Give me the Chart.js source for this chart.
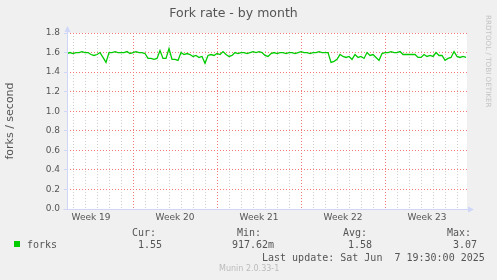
<!DOCTYPE html>
<html>
<head>
<meta charset="utf-8">
<script src="https://cdn.jsdelivr.net/npm/chart.js@4"></script>
<style>
  body { margin: 0; background: #f0f0f0; }
  #wrap { position: relative; width: 497px; height: 280px; background: #f0f0f0; overflow: hidden; }
  #chart { position: absolute; left: 0; top: 0; }
  .mono { position: absolute; font-family: "DejaVu Sans Mono", monospace; font-size: 10px; color: #555; white-space: pre; line-height: 12px; }
  #swatch { position: absolute; left: 14px; top: 241px; width: 6px; height: 6px; background: #00cc00; }
  #munin { position: absolute; left: 219px; top: 264px; font-family: "DejaVu Sans", sans-serif; font-size: 8px; color: #bbb; white-space: pre; }
  #rrd { position: absolute; left: 484px; top: 15px; font-family: "DejaVu Sans", sans-serif; font-size: 7.2px; color: #c4c4c4;
         writing-mode: vertical-rl; white-space: pre; }
</style>
</head>
<body>
<div id="wrap">
  <canvas id="chart" width="497" height="280"></canvas>
  <div id="swatch"></div>
  <div class="mono" style="left:27px;top:239px;">forks</div>
  <div id="legend-stats"></div>
  <div class="mono" id="last-update" style="left:262px;top:252px;"></div>
  <div id="munin">Munin 2.0.33-1</div>
  <div id="rrd">RRDTOOL / TOBI OETIKER</div>
</div>
<script>
// Fork rate samples, one every 6 hours (days counted from the first Monday gridline)
const sampleStartDay = -0.5;
const sampleStepDay = 0.25;
const forks = [
  1.59, 1.60, 1.59, 1.60, 1.60, 1.61, 1.60, 1.60, 1.58, 1.57,
  1.58, 1.60, 1.55, 1.50, 1.60, 1.60, 1.61, 1.60, 1.60, 1.60,
  1.61, 1.59, 1.60, 1.61, 1.60, 1.60, 1.59, 1.54, 1.54, 1.53,
  1.54, 1.62, 1.54, 1.54, 1.64, 1.53, 1.53, 1.52, 1.60, 1.58,
  1.59, 1.58, 1.56, 1.57, 1.55, 1.56, 1.49, 1.57, 1.58, 1.57,
  1.59, 1.58, 1.61, 1.58, 1.56, 1.57, 1.60, 1.59, 1.60, 1.60,
  1.59, 1.60, 1.61, 1.60, 1.61, 1.60, 1.57, 1.56, 1.59, 1.60,
  1.59, 1.60, 1.60, 1.59, 1.60, 1.60, 1.59, 1.60, 1.61, 1.60,
  1.60, 1.59, 1.60, 1.60, 1.61, 1.60, 1.60, 1.60, 1.50, 1.51,
  1.53, 1.58, 1.56, 1.55, 1.56, 1.53, 1.58, 1.55, 1.56, 1.54,
  1.60, 1.57, 1.58, 1.55, 1.52, 1.59, 1.60, 1.60, 1.61, 1.60,
  1.60, 1.61, 1.58, 1.58, 1.58, 1.58, 1.58, 1.55, 1.55, 1.58,
  1.56, 1.57, 1.56, 1.60, 1.57, 1.57, 1.52, 1.54, 1.55, 1.61,
  1.56, 1.55, 1.56, 1.55
];

// x axis: week names and the day each week starts on
const weekLabels = ['Week 19', 'Week 20', 'Week 21', 'Week 22', 'Week 23'];
const weekStartDays = [-2, 5, 12, 19, 26];
const xMinDay = -0.5;
const xMaxDay = 32.83;

// y axis
const yMax = 1.8;
const yTickCount = 18; // steps of 0.1

// legend
const statNames = ['Cur:', 'Min:', 'Avg:', 'Max:'];
const statValues = ['1.55', '917.62m', '1.58', '3.07'];
const lastUpdate = 'Last update: Sat Jun  7 19:30:00 2025';

const MAJOR = 'rgb(245, 120, 120)';
const MINOR = 'rgba(175, 175, 175, 0.6)';
const AXIS = '#cfd6f8';

const weekCenters = weekStartDays.map(d => d + 3.5);

// legend text
const statX = [132, 237, 343, 447];
const valX = [138, 232, 348, 453];
let html = '';
statNames.forEach((n, i) => {
    html += `<div class="mono" style="left:${statX[i]}px;top:227px;">${n}</div>`;
    html += `<div class="mono" style="left:${valX[i]}px;top:239px;">${statValues[i]}</div>`;
});
document.getElementById('legend-stats').innerHTML = html;
document.getElementById('last-update').textContent = lastUpdate;

function isWeekStart(v) {
    return weekStartDays.some(w => Math.abs(w - v) < 1e-6);
}

// white canvas behind the plot
const plotBackground = {
    id: 'plotBackground',
    beforeDraw(chart) {
        const a = chart.chartArea;
        chart.ctx.save();
        chart.ctx.fillStyle = '#ffffff';
        chart.ctx.fillRect(a.left, a.top, a.right - a.left, a.bottom - a.top);
        chart.ctx.restore();
    }
};

const axisArrows = {
    id: 'axisArrows',
    afterDraw(chart) {
        const ctx = chart.ctx;
        const a = chart.chartArea;
        const l = Math.round(a.left) + 0.5;
        const b = Math.round(a.bottom) + 0.5;
        ctx.save();
        ctx.strokeStyle = AXIS;
        ctx.fillStyle = AXIS;
        ctx.lineWidth = 1;
        ctx.beginPath();
        ctx.moveTo(l, b);
        ctx.lineTo(l, a.top - 2);
        ctx.moveTo(l - 4, b);
        ctx.lineTo(a.right + 2, b);
        ctx.stroke();
        // top arrow
        ctx.beginPath();
        ctx.moveTo(l, a.top - 7);
        ctx.lineTo(l - 3, a.top - 1);
        ctx.lineTo(l + 3, a.top - 1);
        ctx.closePath();
        ctx.fill();
        // right arrow
        ctx.beginPath();
        ctx.moveTo(a.right + 7, b);
        ctx.lineTo(a.right + 1, b - 3);
        ctx.lineTo(a.right + 1, b + 3);
        ctx.closePath();
        ctx.fill();
        ctx.restore();
    }
};

new Chart(document.getElementById('chart'), {
    type: 'line',
    data: {
        datasets: [{
            label: 'forks',
            data: forks.map((v, i) => ({ x: sampleStartDay + i * sampleStepDay, y: v })),
            borderColor: '#00cc00',
            borderWidth: 1.3,
            pointRadius: 0,
            tension: 0,
            fill: false
        }]
    },
    options: {
        responsive: false,
        devicePixelRatio: 1,
        animation: false,
        layout: { padding: { left: 0, right: 30, top: 0, bottom: 0 } },
        plugins: {
            legend: { display: false },
            tooltip: { enabled: false },
            title: {
                display: true,
                text: 'Fork rate - by month',
                color: '#555',
                font: { family: 'DejaVu Sans', size: 12.5, weight: 'normal' },
                padding: { top: 6, bottom: 12 }
            }
        },
        scales: {
            x: {
                type: 'linear',
                min: xMinDay,
                max: xMaxDay,
                afterBuildTicks(scale) {
                    const vals = [];
                    for (let d = 0; d <= Math.floor(xMaxDay); d++) vals.push(d);
                    weekCenters.forEach(c => vals.push(c));
                    vals.sort((p, q) => p - q);
                    scale.ticks = vals.map(v => ({ value: v }));
                },
                afterFit(scale) { scale.height = 71; },
                grid: {
                    drawTicks: false,
                    color(ctx) {
                        const t = ctx.scale.ticks[ctx.index];
                        const v = t ? t.value : NaN;
                        if (Math.abs(v - Math.round(v)) > 1e-6) return 'transparent';
                        return isWeekStart(v) ? MAJOR : MINOR;
                    }
                },
                border: { display: false, dash: [1, 2] },
                ticks: {
                    autoSkip: false,
                    maxRotation: 0,
                    padding: 3,
                    color: '#555',
                    font: { family: 'DejaVu Sans', size: 9 },
                    callback(value) {
                        const i = weekCenters.indexOf(value);
                        return i >= 0 ? weekLabels[i] : '';
                    }
                }
            },
            y: {
                min: 0,
                max: yMax,
                afterBuildTicks(scale) {
                    const t = [];
                    for (let i = 0; i <= yTickCount; i++) t.push({ value: i / 10 });
                    scale.ticks = t;
                },
                afterFit(scale) { scale.width = 67; },
                grid: {
                    drawTicks: true,
                    tickLength: 3,
                    tickColor(ctx) {
                        return ctx.index % 2 === 0 ? AXIS : 'transparent';
                    },
                    color(ctx) {
                        if (ctx.index === 0) return 'transparent';
                        return ctx.index % 2 === 0 ? MAJOR : MINOR;
                    }
                },
                border: { display: false, dash: [1, 2] },
                ticks: {
                    padding: 4,
                    color: '#555',
                    font: { family: 'DejaVu Sans', size: 9 },
                    callback(value, index) {
                        return index % 2 === 0 ? value.toFixed(1) : '';
                    }
                },
                title: {
                    display: true,
                    text: 'forks / second',
                    color: '#555',
                    font: { family: 'DejaVu Sans', size: 11 },
                    padding: { top: 4, bottom: 0 }
                }
            }
        }
    },
    plugins: [plotBackground, axisArrows]
});
</script>
</body>
</html>
